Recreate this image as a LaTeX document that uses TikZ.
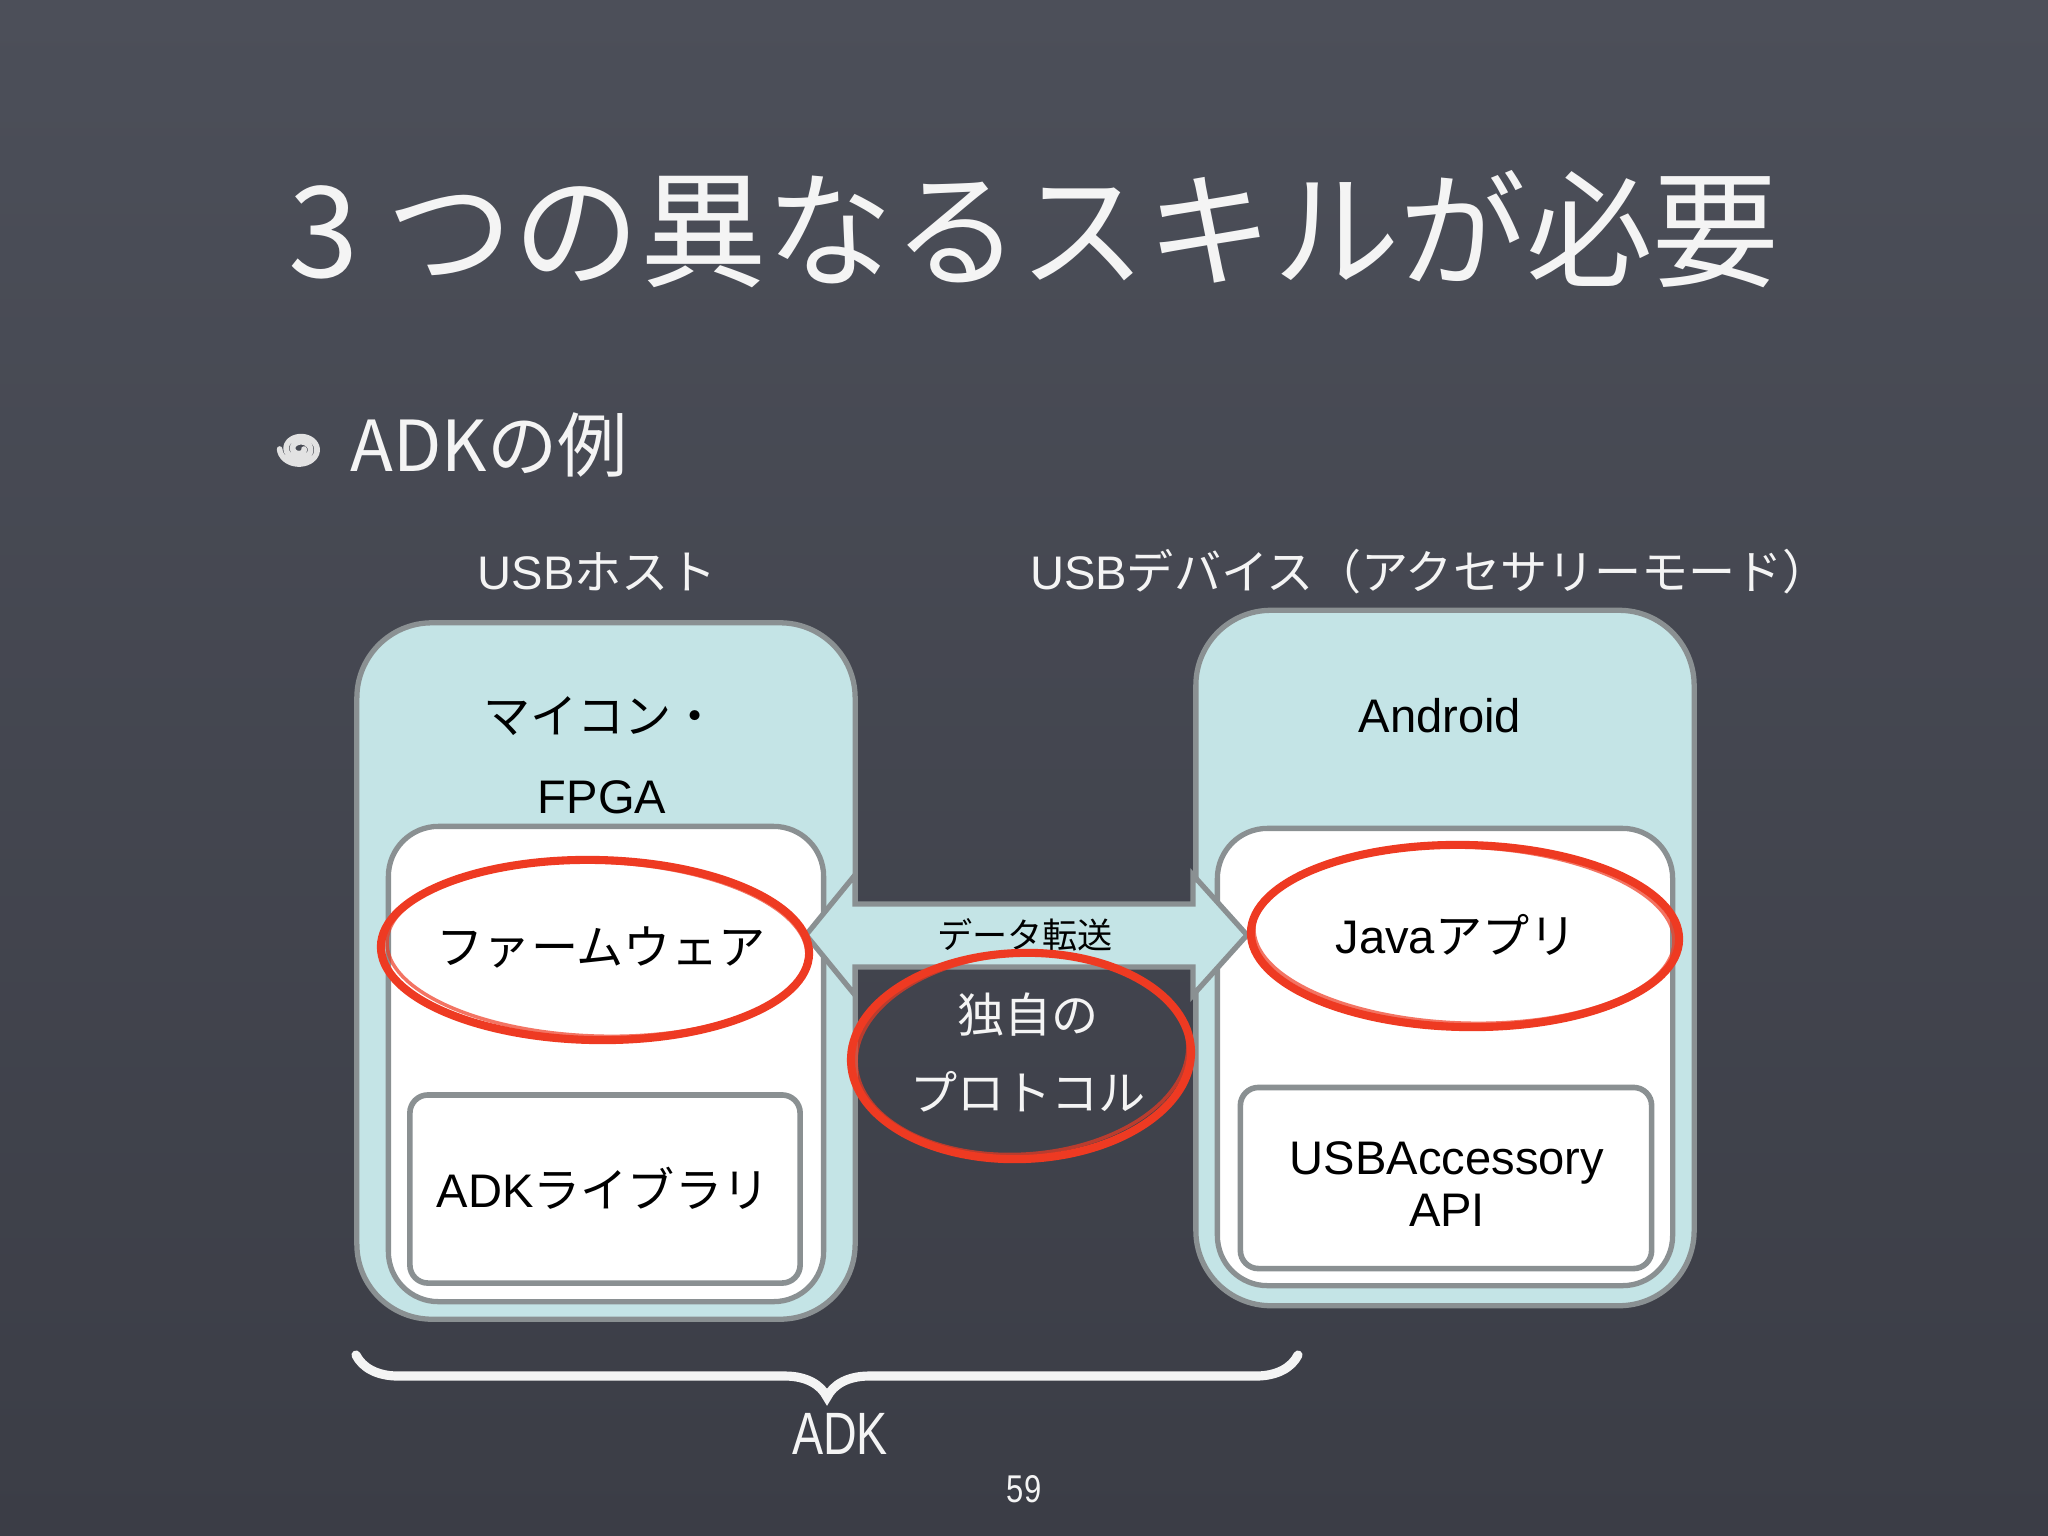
\documentclass[tikz,border=0pt]{standalone}
\usepackage{fontspec}
\setmainfont{Liberation Sans}
\newfontfamily\jp{Noto Sans CJK JP}
\usetikzlibrary{shapes.geometric,decorations.pathreplacing,calc}
\definecolor{bgtop}{HTML}{4C4F59}
\definecolor{bgbot}{HTML}{3B3D46}
\definecolor{boxcyan}{HTML}{C4E4E6}
\definecolor{boxgray}{HTML}{8A9092}
\definecolor{chalkred}{HTML}{EE3A22}
\definecolor{chalkwhite}{HTML}{F4F4F4}
\begin{document}
\begin{tikzpicture}[x=0.01cm,y=-0.01cm,
  outerbox/.style={draw=boxgray, line width=1.5pt, fill=boxcyan, rounded corners=0.75cm, inner sep=0pt},
  innerbox/.style={draw=boxgray, line width=1.5pt, fill=white, rounded corners=0.5cm, inner sep=0pt},
  subbox/.style={draw=boxgray, line width=1.6pt, fill=white, rounded corners=0.18cm, inner sep=0pt},
  arrowshape/.style={draw=boxgray, line width=1.5pt, fill=boxcyan, line join=miter},
  lbl/.style={text=black, font=\fontsize{13.4}{16}\selectfont, inner sep=0pt, align=center},
  wlbl/.style={text=chalkwhite, font=\fontsize{13.4}{16}\selectfont, inner sep=0pt},
  ring/.style={ellipse, draw=chalkred, line width=2.3pt, inner sep=0pt},
  ringfaint/.style={ellipse, draw=chalkred, line width=1pt, inner sep=0pt, opacity=0.7},
  bracestyle/.style={draw=chalkwhite, line width=2.6pt, line cap=round, decorate, decoration={brace, amplitude=0.42cm, mirror}}
]
\useasboundingbox (0,0) rectangle (2048,1536);
\shade[top color=bgtop, bottom color=bgbot] (0,0) rectangle (2048,1536);

% title and bullet
\node[text=chalkwhite, font=\fontsize{36}{40}\selectfont, inner sep=0pt] (title) at (1034,229) {\jp 3 つの異なるスキルが必要};
\draw[chalkwhite!85!gray, line width=1.6pt, line cap=round] plot[domain=0:900, samples=90, smooth] ({300+(4+\x/55)*cos(\x)}, {449+0.8*(4+\x/55)*sin(\x)});
\node[text=chalkwhite, font=\fontsize{20}{24}\selectfont, inner sep=0pt, anchor=west] (bullet) at (350,445) {\jp ADKの例};

% side headings
\node[wlbl] (hosthead) at (597,572) {USB{\jp ホスト}};
\node[wlbl] (devhead) at (1430,572) {USB{\jp デバイス（アクセサリーモード）}};

% left box
\node[outerbox, minimum width=4.98cm, minimum height=6.96cm] (host) at (606,971) {};
\node[innerbox, minimum width=4.35cm, minimum height=4.75cm] (hostin) at (606,1064) {};
\node[subbox, minimum width=3.90cm, minimum height=1.88cm] (adklib) at (605,1189) {};

% right box
\node[outerbox, minimum width=4.98cm, minimum height=6.95cm] (dev) at (1445,958) {};
\node[innerbox, minimum width=4.55cm, minimum height=4.57cm] (devin) at (1445,1057) {};
\node[subbox, minimum width=4.11cm, minimum height=1.81cm] (usbacc) at (1446,1178) {};

% double arrow between boxes
\coordinate (ltip) at (806,935);
\coordinate (rtip) at (1247,935);
\draw[arrowshape] (ltip) -- ++(49,-60) -- ++(0,29) -- ($(rtip)+(-54,-31)$) -- ++(0,-29) -- (rtip)
  -- ++(-54,60) -- ++(0,-28) -- ($(ltip)+(49,32)$) -- ++(0,28) -- cycle;

% labels
\node[lbl] (mcu) at (601,716) {\jp マイコン・};
\node[lbl] (fpga) at (602,797) {FPGA};
\node[lbl] (fw) at (601,947) {\jp ファームウェア};
\node[lbl] (adkt) at (603,1188) {ADK{\jp ライブラリ}};
\node[lbl] (android) at (1440,716) {Android};
\node[lbl] (java) at (1456,935) {Java{\jp アプリ}};
\node[lbl] (usbacct) at (1447,1184) {USBAccessory\\[-1pt]API};
\node[lbl, font=\fontsize{10}{12}\selectfont] (xfer) at (1025,935) {\jp データ転送};
\node[wlbl] (own) at (1028,1015) {\jp 独自の};
\node[wlbl] (proto) at (1028,1092) {\jp プロトコル};

% red chalk rings
\node[ring, minimum width=4.28cm, minimum height=1.80cm, rotate=-1] (ring1) at (595,950) {};
\node[ringfaint, minimum width=4.20cm, minimum height=1.74cm, rotate=-2] (ring1b) at (597,949) {};
\node[ring, minimum width=3.40cm, minimum height=2.06cm, rotate=2] (ring2) at (1021,1056) {};
\node[ringfaint, minimum width=3.32cm, minimum height=2.00cm, rotate=4] (ring2b) at (1022,1054) {};
\node[ring, minimum width=4.28cm, minimum height=1.82cm, rotate=-1] (ring3) at (1465,936) {};
\node[ringfaint, minimum width=4.20cm, minimum height=1.76cm, rotate=-2] (ring3b) at (1464,935) {};

% brace and ADK label
\coordinate (bl) at (356,1355);
\coordinate (br) at (1298,1355);
\draw[bracestyle] (bl) -- (br);
\node[text=chalkwhite, font=\fontsize{17}{20}\selectfont, inner sep=0pt] (adk) at (840,1434) {\scalebox{0.78}[1]{ADK}};
\node[text=chalkwhite, font=\fontsize{11}{13}\selectfont, inner sep=0pt] (page) at (1024,1489) {\scalebox{0.8}[1]{59}};
\end{tikzpicture}
\end{document}
